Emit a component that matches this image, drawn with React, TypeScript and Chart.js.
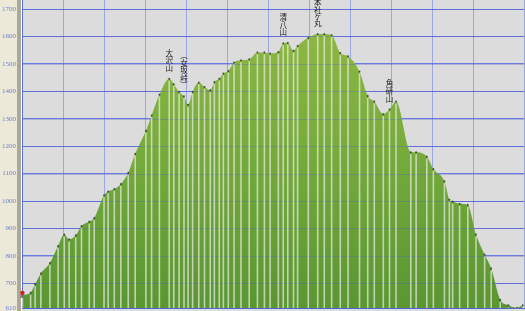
import React, { useEffect, useRef } from 'react';
import { Chart, registerables } from 'chart.js';
Chart.register(...registerables);

// distance along the route (km) and elevation (m)
const distKm = [0.01, 0.21, 0.32, 0.46, 0.68, 0.88, 1.03, 1.15, 1.31, 1.45, 1.64, 1.76, 2.0, 2.1, 2.25, 2.41, 2.59, 2.76, 3.02, 3.16, 3.35, 3.59, 3.7, 3.83, 3.95, 4.05, 4.16, 4.31, 4.45, 4.59, 4.69, 4.81, 4.91, 5.03, 5.17, 5.34, 5.54, 5.74, 5.91, 6.05, 6.25, 6.37, 6.48, 6.62, 6.72, 6.98, 7.21, 7.37, 7.55, 7.76, 7.95, 8.23, 8.43, 8.59, 8.81, 8.96, 9.12, 9.48, 9.61, 9.87, 10.03, 10.3, 10.42, 10.5, 10.67, 10.87, 11.07, 11.28, 11.44, 11.66, 11.86, 12.07, 12.21];
const elevation = [658, 666, 697, 736, 774, 836, 878, 860, 875, 909, 925, 938, 1021, 1035, 1044, 1062, 1103, 1172, 1256, 1312, 1388, 1446, 1426, 1398, 1382, 1351, 1398, 1432, 1416, 1404, 1434, 1446, 1465, 1474, 1505, 1513, 1517, 1542, 1542, 1538, 1543, 1575, 1577, 1548, 1566, 1595, 1609, 1609, 1605, 1540, 1528, 1472, 1383, 1363, 1317, 1334, 1363, 1178, 1178, 1162, 1117, 1072, 1005, 998, 990, 986, 878, 805, 754, 640, 620, 611, 620];
const yTicks = [610, 700, 800, 900, 1000, 1100, 1200, 1300, 1400, 1500, 1600, 1700];
const peakNames = ['大沢山', '︵女坂峠︶', '清八山', '本社ヶ丸', '角研山'];
const peakKm = [3.59, 3.95, 6.37, 7.21, 8.96];

export default function App() {
  const ref = useRef<HTMLCanvasElement | null>(null);
  useEffect(() => {
    const canvas = ref.current;
    if (!canvas) return;
    const data = distKm.map((x, i) => ({ x, y: elevation[i] }));

    const bgPlugin = {
      id: 'bg',
      beforeDraw(chart: any) {
        const { ctx, chartArea, width, height, scales } = chart;
        ctx.save();
        ctx.fillStyle = '#ece9d8';
        ctx.fillRect(0, 0, 17, height);
        ctx.fillStyle = '#aca899';
        ctx.fillRect(17, 0, 4, height);
        ctx.fillStyle = '#dcdcdc';
        ctx.fillRect(chartArea.left, 0, width - chartArea.left, height);
        // y tick labels
        ctx.fillStyle = '#6b7fd2';
        ctx.font = '7px "Liberation Serif", serif';
        ctx.textAlign = 'right';
        ctx.textBaseline = 'middle';
        yTicks.forEach((v) => {
          ctx.fillText(String(v), 16, scales.y.getPixelForValue(v));
        });
        ctx.restore();
      },
      afterDatasetsDraw(chart: any) {
        const { ctx, chartArea, scales } = chart;
        const xs = scales.x;
        const ys = scales.y;
        ctx.save();
        // grid lines showing through the fill
        ctx.strokeStyle = 'rgba(70,85,200,0.3)';
        ctx.lineWidth = 1;
        yTicks.forEach((v) => {
          const y = Math.round(ys.getPixelForValue(v)) + 0.5;
          ctx.beginPath();
          ctx.moveTo(chartArea.left, y);
          ctx.lineTo(chartArea.right, y);
          ctx.stroke();
        });
        // drop lines
        ctx.strokeStyle = 'rgba(232,234,226,0.72)';
        ctx.lineWidth = 1.6;
        data.forEach((p) => {
          const x = xs.getPixelForValue(p.x);
          const y = ys.getPixelForValue(p.y);
          ctx.beginPath();
          ctx.moveTo(x, y + 2);
          ctx.lineTo(x, chartArea.bottom);
          ctx.stroke();
        });
        // points
        ctx.fillStyle = 'rgba(20,20,20,0.75)';
        data.forEach((p) => {
          const x = xs.getPixelForValue(p.x);
          const y = ys.getPixelForValue(p.y);
          ctx.fillRect(x - 0.8, y - 0.8, 1.6, 1.6);
        });
        // start marker
        const sx = xs.getPixelForValue(distKm[0]);
        const sy = ys.getPixelForValue(elevation[0]);
        ctx.fillStyle = '#777';
        ctx.fillRect(sx - 2, sy, 4, 3);
        ctx.fillStyle = '#d42020';
        ctx.beginPath();
        ctx.arc(sx, sy - 2, 2.2, 0, Math.PI * 2);
        ctx.fill();
        // peak labels (vertical text)
        ctx.fillStyle = '#1a1a1a';
        ctx.font = '7.5px "Noto Sans CJK JP"';
        ctx.textAlign = 'center';
        ctx.textBaseline = 'bottom';
        peakNames.forEach((name, i) => {
          const idx = distKm.indexOf(peakKm[i]);
          const x = xs.getPixelForValue(peakKm[i]);
          const py = ys.getPixelForValue(elevation[idx]);
          const chars = Array.from(name);
          let y = py - 7;
          for (let c = chars.length - 1; c >= 0; c--) {
            ctx.fillText(chars[c], x, y);
            y -= chars[c] === 'ヶ' ? 5.5 : 7.6;
          }
        });
        ctx.restore();
      },
    };

    const chart = new Chart(canvas, {
      type: 'line',
      data: {
        datasets: [
          {
            data,
            fill: 'start',
            borderWidth: 0,
            borderColor: 'rgba(0,0,0,0)',
            pointRadius: 0,
            cubicInterpolationMode: 'monotone',
            backgroundColor: (ctx: any) => {
              const ca = ctx.chart.chartArea;
              if (!ca) return '#7aae3e';
              const g = ctx.chart.ctx.createLinearGradient(0, ca.top, 0, ca.bottom);
              g.addColorStop(0, '#93ba45');
              g.addColorStop(0.5, '#76ab3c');
              g.addColorStop(1, '#5a9632');
              return g;
            },
          },
        ],
      },
      options: {
        animation: false,
        responsive: false,
        layout: { padding: { left: 0, right: 1, top: 0, bottom: 0 } },
        plugins: { legend: { display: false }, tooltip: { enabled: false } },
        scales: {
          x: {
            type: 'linear',
            min: 0,
            max: 12.24,
            ticks: { display: false, stepSize: 1 },
            grid: { color: 'rgba(150,160,225,0.9)', drawTicks: false, lineWidth: 1 },
            border: { color: '#5a6ee0', width: 1 },
            afterFit: (s: any) => { s.height = 3; },
          },
          y: {
            min: 610,
            max: 1733,
            afterBuildTicks: (s: any) => { s.ticks = yTicks.map((v) => ({ value: v })); },
            ticks: { display: false },
            grid: { color: 'rgba(85,105,230,0.85)', drawTicks: false, lineWidth: 1 },
            border: { color: '#5a6ee0', width: 1 },
            afterFit: (s: any) => { s.width = 22; },
          },
        },
      },
      plugins: [bgPlugin],
    });
    return () => chart.destroy();
  }, []);
  return (
    <div style={{ position: 'fixed', left: 0, top: 0, width: 525, height: 311 }}>
      <canvas ref={ref} width={525} height={311} style={{ width: 525, height: 311, display: 'block' }} />
    </div>
  );
}
